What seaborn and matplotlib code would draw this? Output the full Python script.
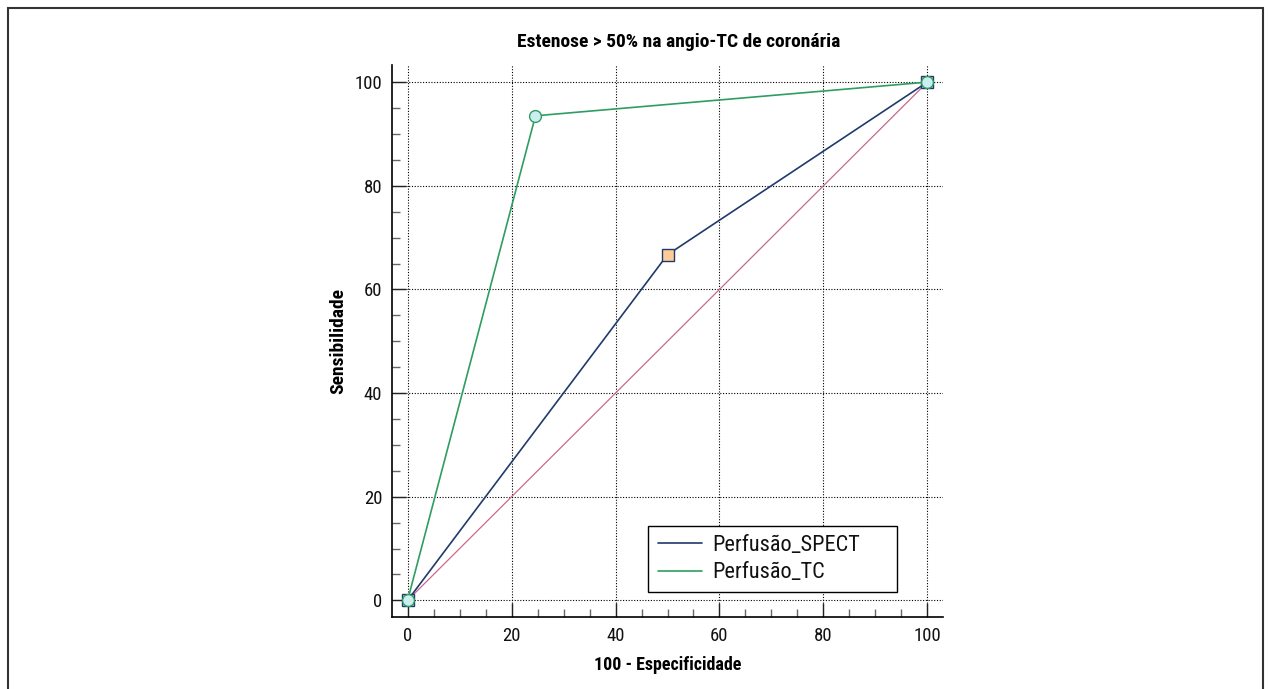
import pandas as pd
import matplotlib
matplotlib.use("Agg")
import matplotlib.pyplot as plt
from matplotlib.lines import Line2D
from matplotlib.patches import Rectangle
from matplotlib.ticker import MultipleLocator
import seaborn as sns

# ROC points
fpr_spect = [0, 50.0, 100]
tpr_spect = [0, 66.7, 100]
fpr_tc = [0, 24.6, 100]
tpr_tc = [0, 93.5, 100]
diag = [0, 100]

title = "Estenose > 50% na angio-TC de coronária"
labels = ["Perfusão_SPECT", "Perfusão_TC"]

sns.set_style("white")
plt.rcParams['font.family'] = ['Roboto Condensed', 'Archivo Narrow', 'DejaVu Sans']

c_spect = "#1f3a6b"
c_tc = "#2e9d62"
c_diag = "#c46b8e"

fig = plt.figure(figsize=(12.69, 6.89), dpi=100)
ax = fig.add_axes([392/1269, 1-617/689, (943-392)/1269, (617-65)/689])

# diagonal reference
sns.lineplot(x=diag, y=diag, ax=ax, color=c_diag, lw=0.9, zorder=2)

spect = pd.DataFrame({"x": fpr_spect, "y": tpr_spect})
tc = pd.DataFrame({"x": fpr_tc, "y": tpr_tc})
sns.lineplot(data=spect, x="x", y="y", ax=ax, sort=False, color=c_spect, lw=1.2,
             marker="s", markersize=9, markerfacecolor="#ffcc99",
             markeredgecolor=c_spect, markeredgewidth=1.0, zorder=3)
sns.lineplot(data=tc, x="x", y="y", ax=ax, sort=False, color=c_tc, lw=1.2,
             marker="o", markersize=8.5, markerfacecolor="#cdeef0",
             markeredgecolor=c_tc, markeredgewidth=1.0, zorder=4)

ax.set_xlim(-3, 103)
ax.set_ylim(-3.2, 103.3)
ax.xaxis.set_major_locator(MultipleLocator(20))
ax.yaxis.set_major_locator(MultipleLocator(20))
ax.xaxis.set_minor_locator(MultipleLocator(5))
ax.yaxis.set_minor_locator(MultipleLocator(5))
ax.tick_params(which="major", direction="in", length=10, width=1.0, color="#222222",
               labelsize=13.5, pad=7, labelcolor="#111111")
ax.tick_params(which="minor", direction="in", length=6, width=1.0, color="#666666")
ax.tick_params(axis="x", which="both", bottom=True)
ax.tick_params(axis="y", which="both", left=True)
ax.grid(True, which="major", color="black", linestyle=(0, (1, 1.5)), lw=0.8)

for s in ["top", "right"]:
    ax.spines[s].set_visible(False)
for s in ["left", "bottom"]:
    ax.spines[s].set_color("black")
    ax.spines[s].set_linewidth(1.2)

ax.set_title(title, fontsize=14, fontweight="bold", color="black", pad=13, x=0.521)
ax.set_xlabel("100 - Especificidade", fontsize=13, fontweight="bold", color="black", labelpad=8)
ax.set_ylabel("Sensibilidade", fontsize=14, fontweight="bold", color="black", labelpad=5)

# legend box is wider on the right than matplotlib's own frame, so draw it separately
ax.add_patch(Rectangle((0.4646, 0.0453), 0.452, 0.1196, transform=ax.transAxes,
                       facecolor="white", edgecolor="black", lw=1.0, zorder=5))
handles = [Line2D([], [], color=c_spect, lw=1.2), Line2D([], [], color=c_tc, lw=1.2)]
leg = ax.legend(handles, labels, loc="upper left", bbox_to_anchor=(0.468, 0.1631),
                fontsize=16, frameon=False, handlelength=2.0, handletextpad=0.45,
                borderpad=0.35, labelspacing=0.3, borderaxespad=0)
leg.set_zorder(6)
for t in leg.get_texts():
    t.set_color("#111111")

# outer frame of the figure
fig.patches.append(Rectangle((8/1269, -0.05), (1263-8)/1269, 1.05-8/689,
                             transform=fig.transFigure, fill=False,
                             edgecolor="#333333", lw=1.5))

fig.savefig("out.png", dpi=100)
